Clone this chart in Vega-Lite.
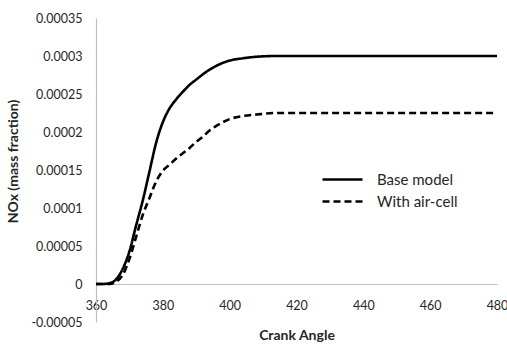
{
  "$schema": "https://vega.github.io/schema/vega-lite/v6.json",
  "width": 401,
  "height": 304,
  "autosize": "none",
  "padding": {"left": 96, "top": 18, "right": 10, "bottom": 22},
  "background": "white",
  "config": {
    "view": {"stroke": null},
    "font": "Lato",
    "axis": {"labelColor": "#262626", "titleColor": "#262626", "labelFontSize": 12.5, "titleFontSize": 14, "titleFontWeight": "bold", "domainColor": "#bfbfbf", "domainWidth": 1.2, "ticks": false, "grid": false}
  },
  "data": {
    "values": [
      {"angle": 360, "nox": 0, "series": "Base model"},
      {"angle": 362, "nox": 0, "series": "Base model"},
      {"angle": 364, "nox": 0.000001, "series": "Base model"},
      {"angle": 366, "nox": 0.000006, "series": "Base model"},
      {"angle": 368, "nox": 0.00002, "series": "Base model"},
      {"angle": 370, "nox": 0.000043, "series": "Base model"},
      {"angle": 372, "nox": 0.000077, "series": "Base model"},
      {"angle": 374, "nox": 0.00011, "series": "Base model"},
      {"angle": 376, "nox": 0.000148, "series": "Base model"},
      {"angle": 378, "nox": 0.000186, "series": "Base model"},
      {"angle": 380, "nox": 0.000213, "series": "Base model"},
      {"angle": 382, "nox": 0.000231, "series": "Base model"},
      {"angle": 384, "nox": 0.000243, "series": "Base model"},
      {"angle": 386, "nox": 0.000253, "series": "Base model"},
      {"angle": 388, "nox": 0.000262, "series": "Base model"},
      {"angle": 390, "nox": 0.000269, "series": "Base model"},
      {"angle": 392, "nox": 0.000276, "series": "Base model"},
      {"angle": 394, "nox": 0.000282, "series": "Base model"},
      {"angle": 396, "nox": 0.000287, "series": "Base model"},
      {"angle": 398, "nox": 0.000291, "series": "Base model"},
      {"angle": 400, "nox": 0.000294, "series": "Base model"},
      {"angle": 404, "nox": 0.000297, "series": "Base model"},
      {"angle": 408, "nox": 0.000299, "series": "Base model"},
      {"angle": 414, "nox": 0.0003, "series": "Base model"},
      {"angle": 420, "nox": 0.0003, "series": "Base model"},
      {"angle": 480, "nox": 0.0003, "series": "Base model"},
      {"angle": 360, "nox": 0, "series": "With air-cell"},
      {"angle": 364, "nox": 0, "series": "With air-cell"},
      {"angle": 366, "nox": 0.000003, "series": "With air-cell"},
      {"angle": 368, "nox": 0.000012, "series": "With air-cell"},
      {"angle": 370, "nox": 0.000033, "series": "With air-cell"},
      {"angle": 372, "nox": 0.000062, "series": "With air-cell"},
      {"angle": 374, "nox": 0.000091, "series": "With air-cell"},
      {"angle": 376, "nox": 0.000113, "series": "With air-cell"},
      {"angle": 378, "nox": 0.000135, "series": "With air-cell"},
      {"angle": 380, "nox": 0.000149, "series": "With air-cell"},
      {"angle": 382, "nox": 0.000157, "series": "With air-cell"},
      {"angle": 384, "nox": 0.000165, "series": "With air-cell"},
      {"angle": 386, "nox": 0.000172, "series": "With air-cell"},
      {"angle": 388, "nox": 0.000179, "series": "With air-cell"},
      {"angle": 390, "nox": 0.000187, "series": "With air-cell"},
      {"angle": 392, "nox": 0.000194, "series": "With air-cell"},
      {"angle": 394, "nox": 0.000202, "series": "With air-cell"},
      {"angle": 396, "nox": 0.000208, "series": "With air-cell"},
      {"angle": 398, "nox": 0.000213, "series": "With air-cell"},
      {"angle": 400, "nox": 0.000217, "series": "With air-cell"},
      {"angle": 404, "nox": 0.000221, "series": "With air-cell"},
      {"angle": 408, "nox": 0.000223, "series": "With air-cell"},
      {"angle": 414, "nox": 0.000225, "series": "With air-cell"},
      {"angle": 420, "nox": 0.000225, "series": "With air-cell"},
      {"angle": 480, "nox": 0.000225, "series": "With air-cell"}
    ]
  },
  "mark": {"type": "line", "color": "black", "strokeWidth": 2.6, "interpolate": "monotone"},
  "encoding": {
    "x": {
      "field": "angle",
      "type": "quantitative",
      "scale": {"domain": [360, 480], "nice": false, "zero": false},
      "axis": {
        "title": "Crank Angle",
        "values": [360, 380, 400, 420, 440, 460, 480],
        "offset": -38,
        "labelPadding": 15,
        "titlePadding": 17,
        "labelFlush": false
      }
    },
    "y": {
      "field": "nox",
      "type": "quantitative",
      "scale": {"domain": [-0.00005, 0.00035], "nice": false, "zero": false},
      "axis": {
        "title": "NOx (mass fraction)",
        "values": [-0.00005, 0, 0.00005, 0.0001, 0.00015, 0.0002, 0.00025, 0.0003, 0.00035],
        "labelExpr": "toString(datum.value)",
        "labelPadding": 14,
        "titleX": -83,
        "titleY": 143,
        "titleAngle": -90,
        "titleAlign": "center",
        "titleBaseline": "middle"
      }
    },
    "strokeDash": {
      "field": "series",
      "type": "nominal",
      "scale": {"domain": ["Base model", "With air-cell"], "range": [[1, 0], [7, 4]]},
      "legend": {
        "title": null,
        "orient": "none",
        "legendX": 239,
        "legendY": 154,
        "padding": 0,
        "rowPadding": 6,
        "symbolType": "M-4,0H4",
        "symbolSize": 100,
        "symbolStrokeWidth": 2.6,
        "symbolStrokeColor": "black",
        "labelFontSize": 15,
        "labelColor": "#262626",
        "labelOffset": 27
      }
    }
  }
}
